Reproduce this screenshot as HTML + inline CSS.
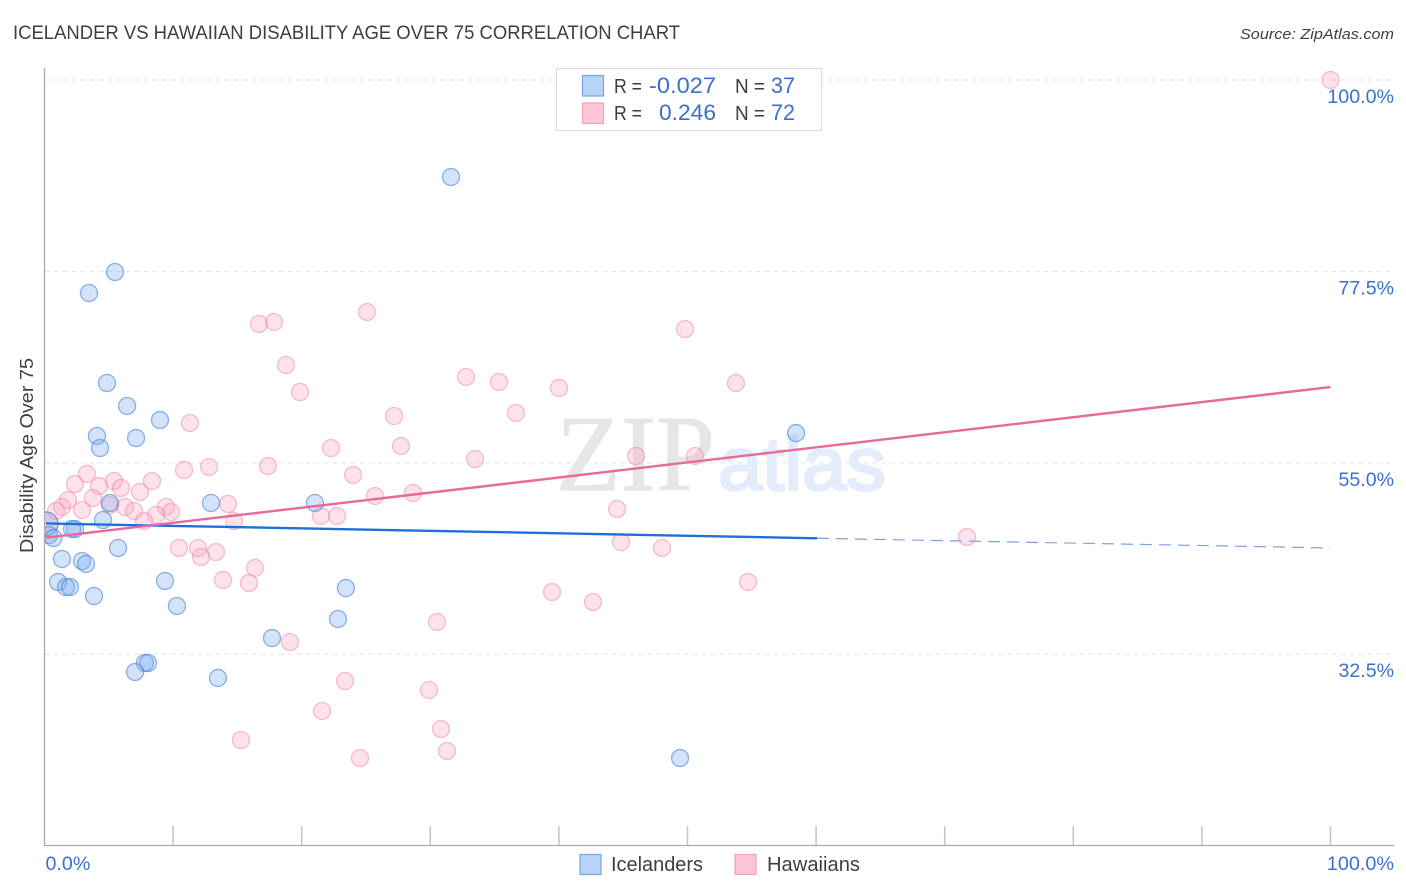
<!DOCTYPE html>
<html lang="en">
<head>
<meta charset="utf-8">
<title>Icelander vs Hawaiian Disability Age Over 75 Correlation Chart</title>
<style>
html,body{margin:0;padding:0;background:#fff;}
svg{display:block;}
text{font-family:"Liberation Sans",sans-serif;}
</style>
</head>
<body>
<svg id="chart" width="1406" height="892" viewBox="0 0 1406 892" xmlns="http://www.w3.org/2000/svg">
  <defs>
    <clipPath id="plot-clip"><rect x="44.5" y="60" width="1350" height="786"/></clipPath>
  </defs>
  <rect x="0" y="0" width="1406" height="892" fill="#fff"/>
  <text x="13" y="39" font-size="19" fill="#3a3f44" textLength="667" lengthAdjust="spacingAndGlyphs">ICELANDER VS HAWAIIAN DISABILITY AGE OVER 75 CORRELATION CHART</text>
  <text x="1394" y="39" font-size="15" font-style="italic" fill="#3a3f44" text-anchor="end" textLength="154" lengthAdjust="spacingAndGlyphs">Source: ZipAtlas.com</text>
  <text transform="translate(33,553) rotate(-90)" font-size="18" fill="#3a3f44" textLength="195" lengthAdjust="spacingAndGlyphs">Disability Age Over 75</text>

  <g id="grid"></g>
  <g>
    <text x="556" y="490" font-size="108" fill="#e6e6e6" stroke="#e6e6e6" stroke-width="1" style="font-family:'Liberation Serif',serif" textLength="159" lengthAdjust="spacingAndGlyphs">ZIP</text>
    <text x="718" y="490" font-size="75" fill="#e3ecfa" stroke="#e3ecfa" stroke-width="2.5" textLength="168" lengthAdjust="spacingAndGlyphs">atlas</text>
  </g>
  <g id="dots" clip-path="url(#plot-clip)"></g>
  <g id="trends"></g>
  <g id="axes">
    <line x1="44.5" y1="68" x2="44.5" y2="845.5" stroke="#aaa" stroke-width="1.3"/>
    <line x1="44" y1="845.5" x2="1394" y2="845.5" stroke="#aaa" stroke-width="1.3"/>
  </g>
  <g id="labels"></g>

  <g>
    <rect x="556.5" y="68.5" width="265" height="62" fill="#fff" stroke="#dcdcdc" stroke-width="1.2"/>
    <rect x="582.5" y="75.5" width="21" height="20.5" fill="#b7d3f8" stroke="#78a6e4" stroke-width="1.2"/>
    <rect x="582.5" y="103" width="21" height="20.5" fill="#fcc6d8" stroke="#f0a0bc" stroke-width="1.2"/>
    <text x="614" y="93" font-size="20" fill="#3a3f44" textLength="28" lengthAdjust="spacingAndGlyphs">R =</text>
    <text x="649" y="93" font-size="22" fill="#3a70c8" textLength="67" lengthAdjust="spacingAndGlyphs">-0.027</text>
    <text x="735" y="93" font-size="20" fill="#3a3f44" textLength="30" lengthAdjust="spacingAndGlyphs">N =</text>
    <text x="771" y="93" font-size="22" fill="#3a70c8" textLength="24" lengthAdjust="spacingAndGlyphs">37</text>
    <text x="614" y="120" font-size="20" fill="#3a3f44" textLength="28" lengthAdjust="spacingAndGlyphs">R =</text>
    <text x="659" y="120" font-size="22" fill="#3a70c8" textLength="57" lengthAdjust="spacingAndGlyphs">0.246</text>
    <text x="735" y="120" font-size="20" fill="#3a3f44" textLength="30" lengthAdjust="spacingAndGlyphs">N =</text>
    <text x="771" y="120" font-size="22" fill="#3a70c8" textLength="24" lengthAdjust="spacingAndGlyphs">72</text>
  </g>

  <g>
    <rect x="580" y="854.5" width="21" height="20" fill="#b7d3f8" stroke="#78a6e4" stroke-width="1.2"/>
    <text x="611" y="871" font-size="20" fill="#3a3f44" textLength="92" lengthAdjust="spacingAndGlyphs">Icelanders</text>
    <rect x="735" y="854.5" width="21" height="20" fill="#fcc6d8" stroke="#f0a0bc" stroke-width="1.2"/>
    <text x="767" y="871" font-size="20" fill="#3a3f44" textLength="93" lengthAdjust="spacingAndGlyphs">Hawaiians</text>
  </g>
</svg>
<script>
// Tick values
const yGridValues = [100, 77.5, 55, 32.5];
const yTickLabels = ["100.0%", "77.5%", "55.0%", "32.5%"];
const xTickValues = [10, 20, 30, 40, 50, 60, 70, 80, 90, 100];
const xEndValues = [0, 100];
const xEndLabels = ["0.0%", "100.0%"];

// Icelanders
const icelanderX = [31.61,5.48,3.46,4.86,6.42,8.98,7.12,4.08,4.32,58.44,12.95,21.03,5.09,4.55,0.12,2.37,2.14,0.35,0.70,5.72,1.36,2.92,3.23,1.05,1.67,1.98,3.85,9.37,10.30,23.44,22.82,17.69,7.81,8.05,7.04,13.49,49.42];
const icelanderY = [88.60,77.43,74.96,64.38,61.68,60.03,57.92,58.15,56.74,58.50,50.28,50.28,50.28,48.28,47.81,47.22,47.22,46.51,46.16,44.99,43.69,43.46,43.11,40.99,40.40,40.40,39.34,41.11,38.17,40.28,36.64,34.41,31.47,31.47,30.41,29.71,20.30];

// Hawaiians
const hawaiianX = [100,25.08,16.68,17.85,18.78,19.87,49.81,53.77,32.78,35.34,40.01,36.66,27.18,11.31,27.72,22.28,33.48,46.00,50.58,10.85,12.79,17.38,23.99,3.30,5.40,8.36,2.37,4.24,5.95,7.43,1.83,3.77,25.70,28.65,14.27,9.45,9.84,2.92,1.36,0.90,6.26,6.96,8.67,7.74,14.74,21.50,22.75,44.52,5.09,0.12,71.73,44.83,48.02,10.46,11.94,13.34,12.17,16.37,13.88,15.90,54.71,39.46,42.65,30.52,19.09,23.37,29.90,21.58,30.83,15.28,31.30,24.53];
const hawaiianY = [100,72.73,71.32,71.55,66.50,63.32,70.73,64.38,65.09,64.50,63.79,60.86,60.50,59.68,56.98,56.74,55.45,55.80,55.80,54.16,54.51,54.63,53.57,53.69,52.86,52.86,52.51,52.27,52.04,51.57,50.63,50.86,51.10,51.45,50.16,49.81,49.22,49.45,49.81,49.34,49.81,49.34,48.87,48.16,48.16,48.75,48.75,49.57,50.04,47.81,46.28,45.69,44.99,44.99,44.99,44.52,43.93,42.64,41.22,40.87,40.99,39.81,38.64,36.29,33.94,29.35,28.29,25.83,23.71,22.42,21.12,20.30];

// Trend lines: endpoints in data units
const hawaiianTrendX = [0.12, 100];
const hawaiianTrendY = [46.2, 63.91];
const icelanderSolidX = [0.12, 60.07];
const icelanderSolidY = [47.87, 46.13];
const icelanderDashX = [60.07, 100];
const icelanderDashY = [46.13, 44.99];

const NS = "http://www.w3.org/2000/svg";
function xScale(v){ return 44.5 + v * 12.86; }
function yScale(v){ return 80 + (100 - v) * 8.507; }
function make(tag, attrs, parent){
  const el = document.createElementNS(NS, tag);
  for (const k in attrs) el.setAttribute(k, attrs[k]);
  parent.appendChild(el);
  return el;
}
// The point pair hugging the y-axis is drawn as a larger, paler bubble in the reference.
function radiusFor(xValue){ return xValue < 0.2 ? 12 : 8.5; }

const grid = document.getElementById("grid");
const labels = document.getElementById("labels");
const axes = document.getElementById("axes");
const dots = document.getElementById("dots");
const trends = document.getElementById("trends");

yGridValues.forEach(function(v, i){
  const gl = make("line", {x1:44.5, x2:1394, y1:yScale(v), y2:yScale(v), stroke:"#e2e2e2", "stroke-width":1, "stroke-dasharray":"5 4"}, grid);
  
  
  const t = make("text", {x:1394, y:yScale(v) + 23, "font-size":19, fill:"#3a70d0", "text-anchor":"end"}, labels);
  t.textContent = yTickLabels[i];
  t.setAttribute('textLength', yTickLabels[i].length * 11.1);
  t.setAttribute('lengthAdjust', 'spacingAndGlyphs');
  
  
});

xTickValues.forEach(function(v){
  const tk = make("line", {x1:xScale(v), x2:xScale(v), y1:826, y2:845, stroke:"#c4c4c4", "stroke-width":1.5}, axes);
  
  
});

xEndValues.forEach(function(v, i){
  const anchor = i === 0 ? "start" : "end";
  const px = i === 0 ? xScale(v) + 1 : 1394;
  const t = make("text", {x:px, y:870, "font-size":19, fill:"#3a70d0", "text-anchor":anchor}, labels);
  t.textContent = xEndLabels[i];
  t.setAttribute('textLength', xEndLabels[i].length * 11.2);
  t.setAttribute('lengthAdjust', 'spacingAndGlyphs');
  
  
});

hawaiianX.forEach(function(v, i){
  const c = make("circle", {cx:xScale(v), cy:yScale(hawaiianY[i]), r:radiusFor(v), fill:"rgba(248,160,190,0.3)", stroke:"rgba(235,130,170,0.5)", "stroke-width":1.3}, dots);
  
  
});

icelanderX.forEach(function(v, i){
  const c = make("circle", {cx:xScale(v), cy:yScale(icelanderY[i]), r:radiusFor(v), fill:"rgba(120,170,240,0.33)", stroke:"rgba(70,130,215,0.6)", "stroke-width":1.3}, dots);
  
  
});

const tl1 = make("line", {x1:xScale(icelanderSolidX[0]), y1:yScale(icelanderSolidY[0]), x2:xScale(icelanderSolidX[1]), y2:yScale(icelanderSolidY[1]), stroke:"#1f6fd8", "stroke-width":2.4}, trends);



const tl2 = make("line", {x1:xScale(icelanderDashX[0]), y1:yScale(icelanderDashY[0]), x2:xScale(icelanderDashX[1]), y2:yScale(icelanderDashY[1]), stroke:"#7ba2dc", "stroke-width":1.2, "stroke-dasharray":"12 7"}, trends);



const tl3 = make("line", {x1:xScale(hawaiianTrendX[0]), y1:yScale(hawaiianTrendY[0]), x2:xScale(hawaiianTrendX[1]), y2:yScale(hawaiianTrendY[1]), stroke:"#e8689a", "stroke-width":2.4}, trends);


</script>
</body>
</html>
